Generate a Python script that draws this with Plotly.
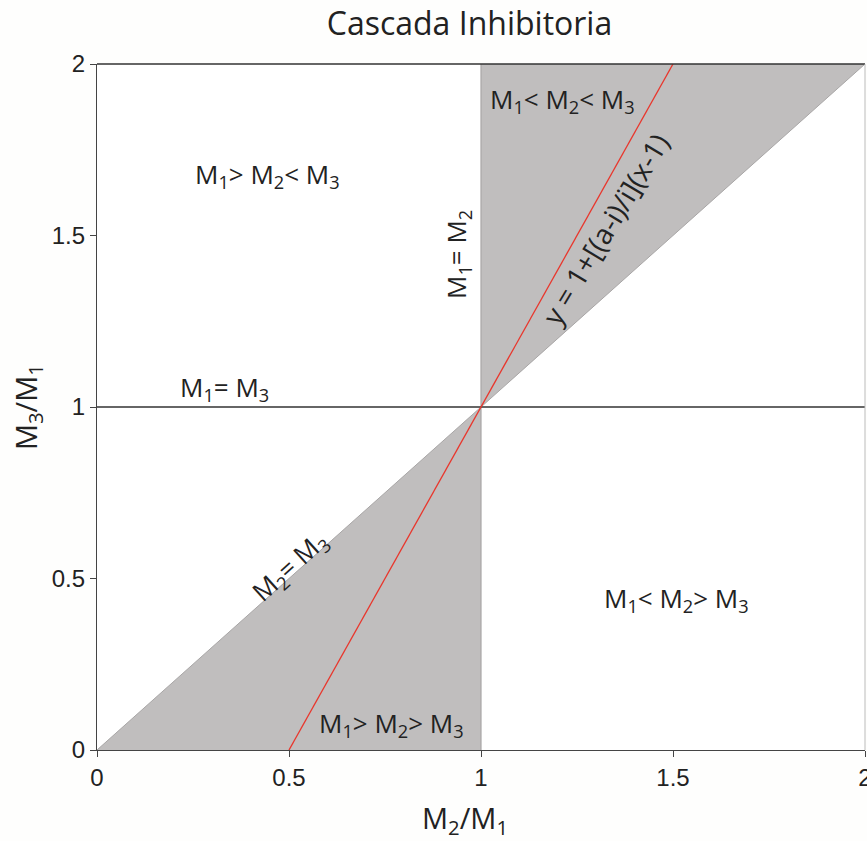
import plotly.graph_objects as go

# Data
x_ticks = [0, 0.5, 1, 1.5, 2]
x_ticklabels = ["0", "0.5", "1", "1.5", "2"]
y_ticks = [0, 0.5, 1, 1.5, 2]
y_ticklabels = ["0", "0.5", "1", "1.5", "2"]

lower_region_x = [0, 1, 1, 0]
lower_region_y = [0, 1, 0, 0]
upper_region_x = [1, 1, 2, 1]
upper_region_y = [1, 2, 2, 1]

red_line_x = [0.5, 1.5]
red_line_y = [0, 2]
m1_eq_m3_x = [0, 2]
m1_eq_m3_y = [1, 1]
m1_eq_m2_x = [1, 1]
m1_eq_m2_y = [0, 2]
m2_eq_m3_x = [0, 2]
m2_eq_m3_y = [0, 2]

labels = [
    ("M<sub>1</sub>> M<sub>2</sub>< M<sub>3</sub>", 0.444, 1.676, 0, 26),
    ("M<sub>1</sub>< M<sub>2</sub>< M<sub>3</sub>", 1.211, 1.895, 0, 26),
    ("M<sub>1</sub>= M<sub>2</sub>", 0.939, 1.445, -90, 26),
    ("y = 1+[(a-i)/i](x-1)", 1.323, 1.519, -59, 28),
    ("M<sub>1</sub>= M<sub>3</sub>", 0.333, 1.055, 0, 26),
    ("M<sub>2</sub>= M<sub>3</sub>", 0.50, 0.535, -42, 26),
    ("M<sub>1</sub>< M<sub>2</sub>> M<sub>3</sub>", 1.509, 0.44, 0, 26),
    ("M<sub>1</sub>> M<sub>2</sub>> M<sub>3</sub>", 0.767, 0.076, 0, 26),
]

x_title = "M<sub>2</sub>/M<sub>1</sub>"
y_title = "M<sub>3</sub>/M<sub>1</sub>"

GRAY_FILL = "#c0bebe"
GRAY_LINE = "#a8a6a6"
FONT = "Open Sans"

fig = go.Figure()
fig.add_trace(go.Scatter(x=lower_region_x, y=lower_region_y, fill="toself",
                         fillcolor=GRAY_FILL, mode="lines", line=dict(width=0),
                         hoverinfo="skip", showlegend=False))
fig.add_trace(go.Scatter(x=upper_region_x, y=upper_region_y, fill="toself",
                         fillcolor=GRAY_FILL, mode="lines", line=dict(width=0),
                         hoverinfo="skip", showlegend=False))
fig.add_trace(go.Scatter(x=m2_eq_m3_x, y=m2_eq_m3_y, mode="lines",
                         line=dict(color=GRAY_LINE, width=1), showlegend=False))
fig.add_trace(go.Scatter(x=m1_eq_m2_x, y=m1_eq_m2_y, mode="lines",
                         line=dict(color=GRAY_LINE, width=1.2), showlegend=False))
fig.add_trace(go.Scatter(x=m1_eq_m3_x, y=m1_eq_m3_y, mode="lines",
                         line=dict(color="#333333", width=1.3), showlegend=False))
fig.add_trace(go.Scatter(x=red_line_x, y=red_line_y, mode="lines",
                         line=dict(color="#e8362c", width=1.3), showlegend=False))

for text, x, y, ang, sz in labels:
    fig.add_annotation(x=x, y=y, text=text, textangle=ang, showarrow=False,
                       font=dict(family=FONT, size=sz, color="#222222"))

# axis titles as annotations for exact placement
fig.add_annotation(xref="paper", yref="paper", x=0.479, y=-0.102, text=x_title,
                   showarrow=False, xanchor="center", yanchor="middle",
                   font=dict(family=FONT, size=29, color="#222222"))
fig.add_annotation(xref="paper", yref="paper", x=-0.091, y=0.5, text=y_title,
                   textangle=-90, showarrow=False, xanchor="center", yanchor="middle",
                   font=dict(family=FONT, size=29, color="#222222"))

# top and right frame
fig.add_shape(type="line", xref="paper", yref="paper", x0=0, x1=1, y0=1, y1=1,
              line=dict(color="#333333", width=1.3))
fig.add_shape(type="line", xref="paper", yref="paper", x0=1, x1=1, y0=0, y1=1,
              line=dict(color="#bbbbbb", width=1))

fig.update_layout(
    width=867, height=841,
    margin=dict(l=97, r=2, t=64, b=91, autoexpand=False),
    paper_bgcolor="#fefefd", plot_bgcolor="white",
    title=dict(text="Cascada Inhibitoria", x=0.5415, xanchor="center", y=0.972,
               yanchor="middle", font=dict(family=FONT, size=32, color="#222222")),
    xaxis=dict(range=[0, 2], tickvals=x_ticks, ticktext=x_ticklabels,
               showgrid=False, zeroline=False, showline=True, linecolor="#444444",
               linewidth=1.3, ticks="outside", ticklen=6, tickcolor="#444444",
               ticklabeloverflow="allow", automargin=False,
               tickfont=dict(family="Liberation Sans", size=24, color="#222222")),
    yaxis=dict(range=[0, 2], tickvals=y_ticks, ticktext=y_ticklabels,
               showgrid=False, zeroline=False, showline=True, linecolor="#444444",
               linewidth=1.3, ticks="outside", ticklen=6, tickcolor="#444444",
               ticklabeloverflow="allow", automargin=False,
               tickfont=dict(family="Liberation Sans", size=24, color="#222222")),
)

fig.write_html("out.html")
